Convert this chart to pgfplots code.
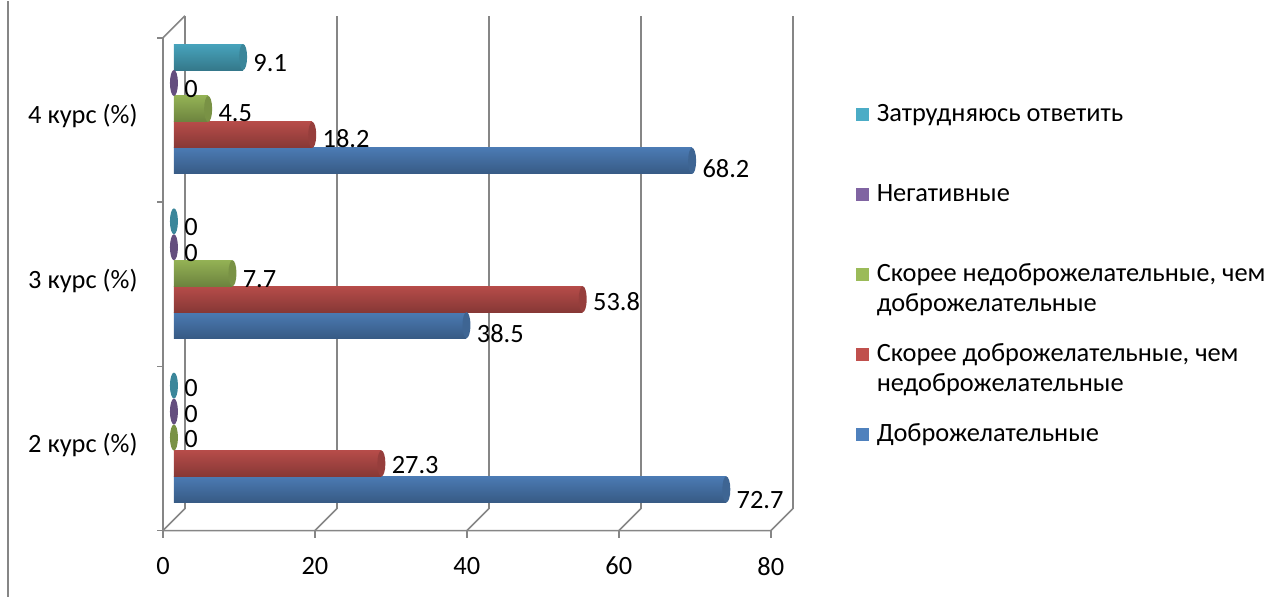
\documentclass[border=0pt]{standalone}
\usepackage{fontspec}
\setmainfont{Carlito}
\usepackage{pgfplots}
\pgfplotsset{compat=1.18}
\definecolor{cBlue}{HTML}{4F81BD}
\definecolor{cRed}{HTML}{C0504D}
\definecolor{cGreen}{HTML}{9BBB59}
\definecolor{cPurple}{HTML}{8064A2}
\definecolor{cCyan}{HTML}{4BACC6}
\definecolor{gridc}{HTML}{868686}
\pgfdeclareplotmark{cap}{%
  \pgfpathellipse{\pgfpointorigin}{\pgfpoint{2pt}{0pt}}{\pgfpoint{0pt}{6.5pt}}%
  \pgfusepathqfill}
\pgfplotsset{
  cyl/.style={xbar, bar width=13pt, bar shift=0pt, draw=none, forget plot,
    top color=#1!95!black, middle color=#1!88!white, bottom color=#1!70!black,
    mark=cap, mark options={fill=#1!78!black, draw=none},
    point meta=x,
    nodes near coords={\pgfmathprintnumber[fixed,precision=1]{\pgfplotspointmeta}},
    every node near coord/.append style={anchor=west, inner sep=0pt, xshift=5pt, text=black}},
  lbl/.style={every node near coord/.append style={yshift=#1}},
  sq/.style={legend image code/.code={%
    \pgfpathrectangle{\pgfpoint{0pt}{-3.25pt}}{\pgfpoint{6.5pt}{6.5pt}}%
    \pgfsetfillcolor{#1}\pgfusepath{fill}}},
}
\begin{document}
\fontsize{13.2}{15}\selectfont
\begin{tikzpicture}[x=1pt,y=1pt]
\path (0,0) rectangle (637.5,298);
\draw[gridc, line width=0.8pt] (4,0) -- (4,298);
\begin{axis}[
  at={(87pt,38.5pt)}, anchor=south west,
  scale only axis, width=304pt, height=246.5pt,
  xmin=0, xmax=80, ymin=-0.5, ymax=2.5,
  clip=false,
  axis line style={draw=none},
  major tick style={draw=none},
  xtick={0,20,40,60,80},
  ytick={0,1,2},
  yticklabels={2 курс (\%),3 курс (\%),4 курс (\%)},
  /pgf/number format/assume math mode=true,
  xticklabel style={inner sep=0pt, anchor=north, xshift=-5.5pt, yshift=-18.5pt},
  yticklabel style={inner sep=0pt, anchor=east, xshift=-18pt, yshift=-3.75pt},
  legend style={at={(axis description cs:1.1217,0.9026)}, anchor=north west,
    draw=none, fill=none, inner sep=0pt, outer sep=0pt, column sep=4pt, row sep=0pt,
    nodes={inner sep=0pt, text height=23.5pt, text depth=16.5pt}},
  legend cell align=left,
]
% 3D frame
\pgfplotsinvokeforeach{0,20,40,60,80}{
  \draw[gridc,line width=0.8pt] ([shift={(5.5pt,5.5pt)}]axis cs:#1,-0.5) -- ([shift={(5.5pt,5.5pt)}]axis cs:#1,2.5);
  \draw[gridc,line width=0.8pt] ([shift={(-5.5pt,-5.5pt)}]axis cs:#1,-0.5) -- ([shift={(5.5pt,5.5pt)}]axis cs:#1,-0.5);
  \draw[gridc,line width=0.8pt] ([shift={(-5.5pt,-5.5pt)}]axis cs:#1,-0.5) -- ++(0pt,-3.5pt);
}
\pgfplotsinvokeforeach{-0.5,0.5,1.5,2.5}{
  \draw[gridc,line width=0.8pt] ([shift={(-5.5pt,-5.5pt)}]axis cs:0,#1) -- ++(-3pt,0pt);
}
\draw[gridc,line width=0.8pt] ([shift={(-5.5pt,-5.5pt)}]axis cs:80,-0.5) -- ([shift={(-5.5pt,-5.5pt)}]axis cs:0,-0.5)
  -- ([shift={(-5.5pt,-5.5pt)}]axis cs:0,2.5) -- ([shift={(5.5pt,5.5pt)}]axis cs:0,2.5);

% legend (top to bottom)
\addlegendimage{sq=cCyan}
\addlegendentry{Затрудняюсь ответить}
\addlegendimage{sq=cPurple}
\addlegendentry{Негативные}
\addlegendimage{sq=cGreen}
\addlegendentry{\parbox[t]{7cm}{Скорее недоброжелательные, чем\\доброжелательные}}
\addlegendimage{sq=cRed}
\addlegendentry{\parbox[t]{7cm}{Скорее доброжелательные, чем\\недоброжелательные}}
\addlegendimage{sq=cBlue}
\addlegendentry{Доброжелательные}

% Доброжелательные
\addplot[cyl=cBlue, lbl=-5.5pt] coordinates {(72.7,-0.316)};
\addplot[cyl=cBlue, lbl=-4pt] coordinates {(38.5,0.684)};
\addplot[cyl=cBlue, lbl=-4pt] coordinates {(68.2,1.684)};
% Скорее доброжелательные, чем недоброжелательные
\addplot[cyl=cRed, lbl=-1pt] coordinates {(27.3,-0.158)};
\addplot[cyl=cRed, lbl=-1pt] coordinates {(53.8,0.842)};
\addplot[cyl=cRed, lbl=-2pt] coordinates {(18.2,1.842)};
% Скорее недоброжелательные, чем доброжелательные
\addplot[cyl=cGreen, lbl=-1pt] coordinates {(0,0)};
\addplot[cyl=cGreen, lbl=-3pt] coordinates {(7.7,1)};
\addplot[cyl=cGreen, lbl=-2pt] coordinates {(4.5,2)};
% Негативные
\addplot[cyl=cPurple, lbl=-1pt] coordinates {(0,0.158)};
\addplot[cyl=cPurple, lbl=-3pt] coordinates {(0,1.158)};
\addplot[cyl=cPurple, lbl=-3pt] coordinates {(0,2.158)};
% Затрудняюсь ответить
\addplot[cyl=cCyan, lbl=-1pt] coordinates {(0,0.316)};
\addplot[cyl=cCyan, lbl=-3pt] coordinates {(0,1.316)};
\addplot[cyl=cCyan, lbl=-3pt] coordinates {(9.1,2.316)};
\end{axis}
\end{tikzpicture}
\end{document}
